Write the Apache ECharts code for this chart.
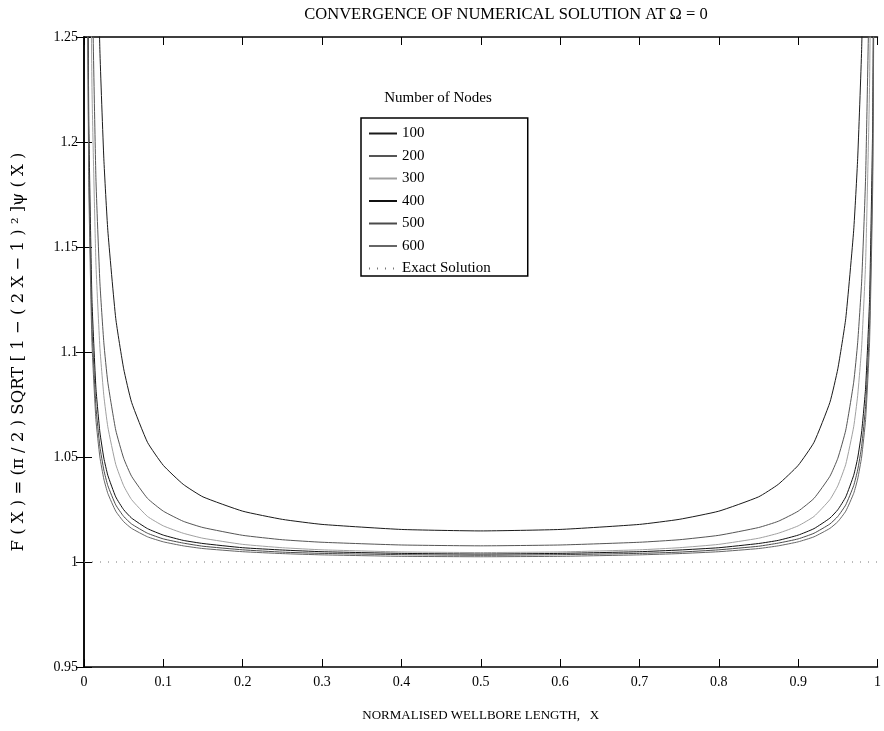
<!DOCTYPE html>
<html>
<head>
<meta charset="utf-8">
<script src="https://cdn.jsdelivr.net/npm/echarts@6/dist/echarts.min.js"></script>
<style>
html,body{margin:0;padding:0;background:#fff;}
#main{width:884px;height:731px;}
</style>
</head>
<body>
<div id="main"></div>
<script>
// x positions along the wellbore (shared by every curve)
var xs = [0.003, 0.006, 0.01, 0.015, 0.02, 0.025, 0.03, 0.04, 0.05, 0.06, 0.08, 0.1, 0.125, 0.15, 0.2, 0.25, 0.3, 0.4, 0.5,
          0.6, 0.7, 0.75, 0.8, 0.85, 0.875, 0.9, 0.92, 0.94, 0.95, 0.96, 0.97, 0.975, 0.98, 0.985, 0.99, 0.994, 0.997];

// F(X) for each node count
var n100 = [2.927, 1.901, 1.516, 1.333, 1.244, 1.192, 1.158, 1.116, 1.092, 1.076, 1.057, 1.046, 1.037, 1.031, 1.0242, 1.0203, 1.0179, 1.0155, 1.0148,
            1.0155, 1.0179, 1.0203, 1.0242, 1.031, 1.037, 1.046, 1.057, 1.076, 1.092, 1.116, 1.158, 1.192, 1.244, 1.333, 1.516, 1.901, 2.927];
var n200 = [2.095, 1.505, 1.2864, 1.183, 1.1334, 1.1044, 1.0856, 1.0628, 1.0494, 1.0408, 1.0303, 1.0242, 1.0194, 1.0164, 1.0127, 1.0106, 1.0094, 1.0081, 1.0077,
            1.0081, 1.0094, 1.0106, 1.0127, 1.0164, 1.0194, 1.0242, 1.0303, 1.0408, 1.0494, 1.0628, 1.0856, 1.1044, 1.1334, 1.183, 1.2864, 1.505, 2.095];
var n300 = [1.922, 1.411, 1.2272, 1.1425, 1.1023, 1.0792, 1.0644, 1.0465, 1.0363, 1.0297, 1.0217, 1.0172, 1.0137, 1.0113, 1.0084, 1.0068, 1.0058, 1.0048, 1.0045,
            1.0048, 1.0058, 1.0068, 1.0084, 1.0113, 1.0137, 1.0172, 1.0217, 1.0297, 1.0363, 1.0465, 1.0644, 1.0792, 1.1023, 1.1425, 1.2272, 1.411, 1.922];
var n400 = [1.430, 1.211, 1.1251, 1.0829, 1.0619, 1.0495, 1.0413, 1.031, 1.0249, 1.0209, 1.0159, 1.0128, 1.0103, 1.0088, 1.0068, 1.0057, 1.0049, 1.0041, 1.0038,
            1.0041, 1.0049, 1.0057, 1.0068, 1.0088, 1.0103, 1.0128, 1.0159, 1.0209, 1.0249, 1.031, 1.0413, 1.0495, 1.0619, 1.0829, 1.1251, 1.211, 1.430];
var n500 = [1.396, 1.1923, 1.1129, 1.0741, 1.055, 1.0438, 1.0364, 1.0272, 1.0217, 1.0181, 1.0137, 1.011, 1.009, 1.0075, 1.0058, 1.0047, 1.0041, 1.0035, 1.0032,
            1.0035, 1.0041, 1.0047, 1.0058, 1.0075, 1.009, 1.011, 1.0137, 1.0181, 1.0217, 1.0272, 1.0364, 1.0438, 1.055, 1.0741, 1.1129, 1.1923, 1.396];
var n600 = [1.381, 1.1808, 1.1046, 1.0679, 1.05, 1.0395, 1.0327, 1.0242, 1.0192, 1.016, 1.012, 1.0096, 1.0077, 1.0064, 1.0049, 1.004, 1.0034, 1.0027, 1.0025,
            1.0027, 1.0034, 1.004, 1.0049, 1.0064, 1.0077, 1.0096, 1.012, 1.016, 1.0192, 1.0242, 1.0327, 1.0395, 1.05, 1.0679, 1.1046, 1.1808, 1.381];
var exactX = [0, 1];
var exactY = [1, 1];

var nodeNames = ['100', '200', '300', '400', '500', '600'];
var nodeData = [n100, n200, n300, n400, n500, n600];
var nodeColors = ['#1a1a1a', '#555555', '#a0a0a0', '#111111', '#4a4a4a', '#666666'];

function pairs(xv, yv) {
    var out = [];
    for (var i = 0; i < xv.length; i++) {
        out.push([xv[i], yv[i]]);
    }
    return out;
}

var serif = '"Liberation Serif", "DejaVu Serif", serif';
var wideSerif = '"DejaVu Serif", "Liberation Serif", serif';
var seriesList = [];
for (var i = 0; i < nodeNames.length; i++) {
    seriesList.push({
        name: nodeNames[i],
        type: 'line',
        data: pairs(xs, nodeData[i]),
        symbol: 'none',
        smooth: 0.15,
        clip: true,
        lineStyle: {color: nodeColors[i], width: 1},
        itemStyle: {color: nodeColors[i]}
    });
}
seriesList.push({
    name: 'Exact Solution',
    type: 'line',
    data: pairs(exactX, exactY),
    symbol: 'none',
    lineStyle: {color: '#777', width: 1, type: [1, 7]},
    itemStyle: {color: '#777'}
});

var myChart = echarts.init(document.getElementById('main'));
var option = {
    backgroundColor: '#fff',
    animation: false,
    textStyle: {fontFamily: serif, color: '#000'},
    title: [
        {
            text: 'CONVERGENCE OF NUMERICAL SOLUTION AT Ω = 0',
            left: 501, top: 1, textAlign: 'center',
            textStyle: {fontFamily: serif, fontSize: 16.5, fontWeight: 'normal', color: '#000'}
        },
        {
            text: 'Number of Nodes',
            left: 433, top: 86, textAlign: 'center',
            textStyle: {fontFamily: serif, fontSize: 15, fontWeight: 'normal', color: '#000'}
        }
    ],
    legend: {
        data: nodeNames.concat(['Exact Solution']),
        orient: 'vertical',
        left: 361, top: 118,
        padding: [8, 37, 0, 7],
        itemGap: 7.5,
        itemWidth: 28, itemHeight: 12,
        borderColor: '#000', borderWidth: 1.5,
        backgroundColor: '#fff',
        itemStyle: {opacity: 0},
        textStyle: {fontFamily: serif, fontSize: 15, color: '#000'},
        selectedMode: false
    },
    grid: {left: 84, right: 4, top: 37, bottom: 64},
    xAxis: [
        {
            type: 'value', min: 0, max: 1, interval: 0.1,
            name: 'NORMALISED WELLBORE LENGTH,   X',
            nameLocation: 'middle', nameGap: 42,
            nameTextStyle: {fontFamily: serif, fontSize: 13, color: '#000'},
            axisLine: {lineStyle: {color: '#000', width: 1.5}},
            axisTick: {inside: true, length: 8, lineStyle: {color: '#000'}},
            axisLabel: {fontFamily: serif, fontSize: 14, color: '#000', margin: 8},
            splitLine: {show: false}
        },
        {
            type: 'value', min: 0, max: 1, interval: 0.1, position: 'top',
            axisLine: {lineStyle: {color: '#000', width: 1.5}},
            axisTick: {inside: true, length: 8, lineStyle: {color: '#000'}},
            axisLabel: {show: false},
            splitLine: {show: false}
        }
    ],
    yAxis: [
        {
            type: 'value', min: 0.95, max: 1.25, interval: 0.05,
            name: 'F ( X ) = (π / 2 ) SQRT [ 1 − ( 2 X − 1 ) ² ]ψ ( X )',
            nameLocation: 'middle', nameGap: 57,
            nameTextStyle: {fontFamily: wideSerif, fontSize: 16.5, color: '#000'},
            axisLine: {lineStyle: {color: '#000', width: 1.5}},
            axisTick: {inside: true, length: 8, lineStyle: {color: '#000'}},
            axisLabel: {fontFamily: serif, fontSize: 14, color: '#000', margin: 6,
                formatter: function (v) { return String(+v.toFixed(2)); }},
            splitLine: {show: false}
        },
        {
            type: 'value', min: 0.95, max: 1.25, interval: 0.05, position: 'right',
            axisLine: {lineStyle: {color: '#000', width: 1.5}},
            axisTick: {inside: true, length: 8, lineStyle: {color: '#000'}},
            axisLabel: {show: false},
            splitLine: {show: false}
        }
    ],
    series: seriesList
};
myChart.setOption(option);
</script>
</body>
</html>
